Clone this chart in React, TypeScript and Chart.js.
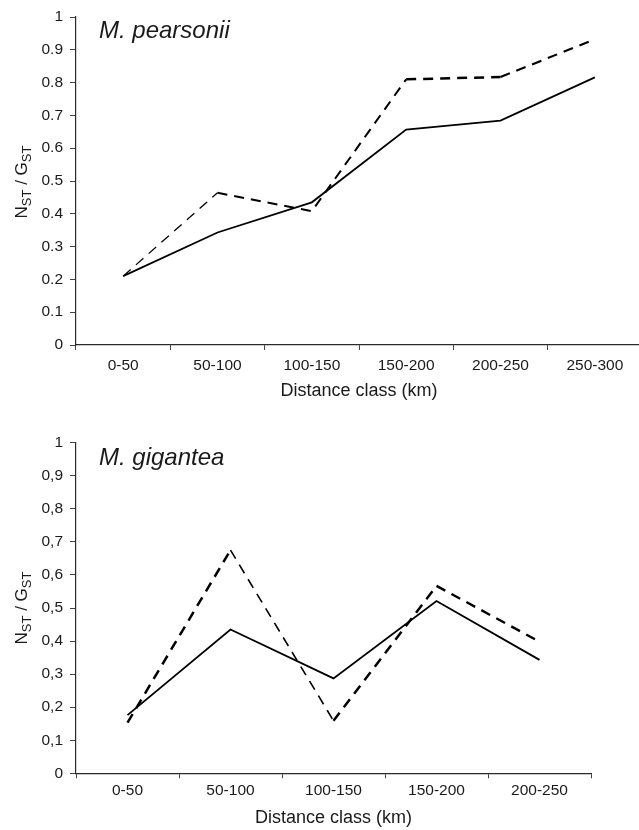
import React, { useEffect, useRef } from "react";
import { Chart, registerables } from "chart.js";

Chart.register(...registerables);

// ---------- data ----------
const topCategories = ["0-50", "50-100", "100-150", "150-200", "200-250", "250-300"];
const topSolid = [0.21, 0.343, 0.435, 0.657, 0.684, 0.816];
const topDashed = [0.21, 0.464, 0.408, 0.81, 0.817, 0.932];
const topYTickLabels = ["0", "0.1", "0.2", "0.3", "0.4", "0.5", "0.6", "0.7", "0.8", "0.9", "1"];
const topSpecies = "M. pearsonii";

const bottomCategories = ["0-50", "50-100", "100-150", "150-200", "200-250"];
const bottomSolid = [0.176, 0.435, 0.287, 0.521, 0.343];
const bottomDashed = [0.153, 0.675, 0.159, 0.567, 0.398];
const bottomYTickLabels = ["0", "0,1", "0,2", "0,3", "0,4", "0,5", "0,6", "0,7", "0,8", "0,9", "1"];
const bottomSpecies = "M. gigantea";

const xAxisTitle = "Distance class (km)";

// ---------- styles ----------
const topDashWidths = [1.3, 2, 2, 2.5, 2.1];
const bottomDashWidths = [2.5, 1.6, 2.5, 2.4];

const FONT = "'Liberation Sans', Arial, Helvetica, sans-serif";
const TEXT = "#1a1a1a";
const AXIS = "#2a2a2a";

const speciesTitlePlugin = {
  id: "speciesTitle",
  afterDraw(chart: any, _args: any, opts: any) {
    const ctx = chart.ctx;
    ctx.save();
    ctx.font = `italic 24px ${FONT}`;
    ctx.fillStyle = TEXT;
    ctx.textBaseline = "alphabetic";
    ctx.textAlign = "left";
    ctx.fillText(opts.text, chart.chartArea.left + opts.dx, chart.chartArea.top + opts.dy);
    ctx.restore();
  },
};

type Geo = {
  width: number;
  height: number;
  padTop: number;
  padRight: number;
  xScaleHeight: number;
  tickPad: number;
  titlePadBottom: number;
  titleDy: number;
};

function makeConfig(
  cats: string[],
  solid: number[],
  dashed: number[],
  yLabels: string[],
  species: string,
  dashWidths: number[],
  g: Geo
): any {
  return {
    type: "line",
    data: {
      labels: cats,
      datasets: [
        {
          label: "solid",
          data: solid,
          borderColor: "#000",
          borderWidth: 1.8,
          pointRadius: 0,
          tension: 0,
          fill: false,
        },
        {
          label: "dashed",
          data: dashed,
          borderColor: "#000",
          borderWidth: 2,
          borderDash: [10, 7],
          pointRadius: 0,
          tension: 0,
          fill: false,
          segment: {
            borderWidth: (ctx: any) => dashWidths[ctx.p0DataIndex] ?? 2,
          },
        },
      ],
    },
    options: {
      responsive: false,
      animation: false,
      devicePixelRatio: 1,
      layout: {
        padding: { top: g.padTop, right: g.padRight, bottom: 0, left: 0 },
      },
      plugins: {
        legend: { display: false },
        tooltip: { enabled: false },
        title: { display: false },
        speciesTitle: { text: species, dx: 23, dy: g.titleDy },
      },
      scales: {
        x: {
          type: "category",
          offset: true,
          afterFit: (s: any) => {
            s.height = g.xScaleHeight;
          },
          grid: {
            display: true,
            drawOnChartArea: false,
            drawTicks: true,
            tickLength: 5,
            offset: true,
            color: "#444",
            lineWidth: 1,
          },
          border: { display: true, color: AXIS, width: 1.2 },
          ticks: {
            color: TEXT,
            padding: g.tickPad,
            maxRotation: 0,
            autoSkip: false,
            font: { family: FONT, size: 15.5 },
          },
          title: {
            display: true,
            text: xAxisTitle,
            color: TEXT,
            font: { family: FONT, size: 18 },
            padding: { top: 0, bottom: g.titlePadBottom },
          },
        },
        y: {
          min: 0,
          max: 1,
          afterFit: (s: any) => {
            s.width = 76;
          },
          grid: {
            display: true,
            drawOnChartArea: false,
            drawTicks: true,
            tickLength: 6,
            color: "#444",
            lineWidth: 1,
          },
          border: { display: true, color: AXIS, width: 1.2 },
          ticks: {
            stepSize: 0.1,
            color: TEXT,
            padding: 7,
            font: { family: FONT, size: 15.5 },
            callback: (_v: any, i: number) => yLabels[i],
          },
        },
      },
    },
    plugins: [speciesTitlePlugin],
  };
}

function LineChart(props: {
  cats: string[];
  solid: number[];
  dashed: number[];
  yLabels: string[];
  species: string;
  dashWidths: number[];
  geo: Geo;
}) {
  const ref = useRef<HTMLCanvasElement>(null);
  useEffect(() => {
    if (!ref.current) return;
    const chart = new Chart(
      ref.current,
      makeConfig(props.cats, props.solid, props.dashed, props.yLabels, props.species, props.dashWidths, props.geo)
    );
    return () => chart.destroy();
  }, []);
  return (
    <canvas
      ref={ref}
      width={props.geo.width}
      height={props.geo.height}
      style={{ display: "block", width: props.geo.width, height: props.geo.height }}
    />
  );
}

function YLabel(props: { x: number; y: number }) {
  const sub: React.CSSProperties = { fontSize: 13, position: "relative", top: 4 };
  return (
    <div
      style={{
        position: "absolute",
        left: props.x,
        top: props.y,
        transform: "translate(-50%, -50%) rotate(-90deg)",
        whiteSpace: "nowrap",
        fontFamily: FONT,
        fontSize: 17,
        lineHeight: 1,
        color: TEXT,
      }}
    >
      N<span style={sub}>ST</span> / G<span style={sub}>ST</span>
    </div>
  );
}

export default function App() {
  const topGeo: Geo = {
    width: 643,
    height: 405,
    padTop: 17,
    padRight: 1,
    xScaleHeight: 60,
    tickPad: 6,
    titlePadBottom: 3.2,
    titleDy: 21.3,
  };
  const bottomGeo: Geo = {
    width: 639,
    height: 405,
    padTop: 17.7,
    padRight: 48,
    xScaleHeight: 56.7,
    tickPad: 3.5,
    titlePadBottom: 0.9,
    titleDy: 22.3,
  };
  return (
    <div
      style={{
        position: "absolute",
        left: 0,
        top: 0,
        width: 639,
        height: 830,
        overflow: "hidden",
        background: "#fff",
      }}
    >
      <div style={{ position: "absolute", left: 0, top: 0 }}>
        <LineChart
          cats={topCategories}
          solid={topSolid}
          dashed={topDashed}
          yLabels={topYTickLabels}
          species={topSpecies}
          dashWidths={topDashWidths}
          geo={topGeo}
        />
      </div>
      <div style={{ position: "absolute", left: 0, top: 425 }}>
        <LineChart
          cats={bottomCategories}
          solid={bottomSolid}
          dashed={bottomDashed}
          yLabels={bottomYTickLabels}
          species={bottomSpecies}
          dashWidths={bottomDashWidths}
          geo={bottomGeo}
        />
      </div>
      <YLabel x={21} y={182} />
      <YLabel x={21} y={608} />
    </div>
  );
}
